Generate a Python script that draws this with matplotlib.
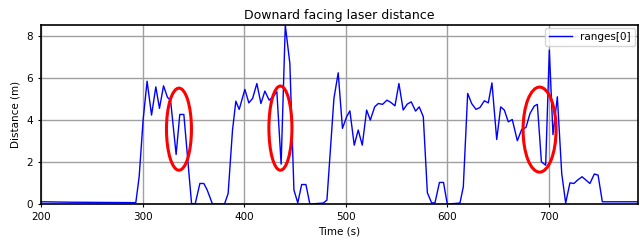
import numpy as np
import matplotlib
matplotlib.use("Agg")
import matplotlib.pyplot as plt
from matplotlib.patches import Ellipse

# laser range readings
time_s = [200, 230, 260, 293.4, 296.7, 300.6, 304.5, 308.9, 313.1, 316.7, 320.7, 324.6,
          327.6, 333.1, 336.7, 340.7, 348.3, 351.8, 356.5, 360.4, 363.7, 368.9, 380.7,
          384.3, 388.6, 391.9, 395.2, 400.8, 404.7, 408.4, 412.6, 416.6, 420.5, 424.7,
          428.4, 432.3, 436.5, 440.6, 445.1, 449.1, 452.9, 456.7, 460.9, 464.8, 478.0,
          481.6, 488.5, 492.7, 496.9, 501.0, 504.2, 508.5, 512.4, 516.4, 520.7, 524.3,
          528.6, 532.2, 536.4, 540.7, 544.6, 548.6, 552.5, 556.7, 560.7, 564.6, 568.9,
          572.5, 576.5, 580.5, 584.7, 588.0, 592.4, 596.4, 600.1, 612.6, 615.9, 620.2,
          624.1, 628.4, 632.3, 636.6, 640.5, 644.1, 648.8, 652.7, 656.3, 660.2, 664.1,
          669.1, 673.4, 677.6, 681.6, 685.8, 688.8, 692.8, 697.0, 700.6, 704.2, 708.5,
          712.8, 716.7, 720.9, 724.8, 728.4, 732.8, 736.7, 740.6, 744.9, 748.6, 752.8,
          788]
ranges0 = [0.11, 0.09, 0.08, 0.07, 1.3, 4.0, 5.84, 4.23, 5.57, 4.55, 5.62, 5.07,
           4.94, 2.36, 4.26, 4.26, 0.03, 0.0, 0.98, 0.98, 0.67, 0.0, 0.0,
           0.5, 3.5, 4.89, 4.5, 5.45, 4.81, 5.02, 5.73, 4.78, 5.37, 4.94,
           5.1, 5.34, 1.9, 8.5, 6.68, 0.67, 0.06, 0.93, 0.93, 0.0, 0.05,
           0.19, 5.02, 6.24, 3.6, 4.15, 4.43, 2.8, 3.52, 2.8, 4.47, 3.99,
           4.62, 4.78, 4.74, 4.94, 4.83, 4.67, 5.73, 4.47, 4.75, 4.86, 4.42,
           4.62, 4.15, 0.54, 0.06, 0.06, 1.03, 1.03, 0.0, 0.05, 0.82, 5.26,
           4.78, 4.5, 4.59, 4.91, 4.81, 5.76, 3.07, 4.62, 4.47, 3.91, 4.02,
           3.01, 3.55, 3.64, 4.31, 4.66, 4.74, 2.01, 1.85, 7.32, 3.3, 5.1,
           1.46, 0.05, 1.01, 0.98, 1.14, 1.3, 1.14, 0.98, 1.43, 1.38, 0.11,
           0.11]

# red circles drawn around the dropouts: (centre t, centre d, width, height)
highlights = [(335.9, 3.56, 24.6, 3.9), (435.8, 3.61, 22.7, 4.0), (691.0, 3.54, 32.5, 4.04)]

fig = plt.figure(figsize=(6.4, 2.48), dpi=100)
ax = fig.add_axes([0.064, 0.177, 0.933, 0.723])
ax.plot(time_s, ranges0, color="blue", lw=1.0, label="ranges[0]")
for cx, cy, w, h in highlights:
    ax.add_patch(Ellipse((cx, cy), w, h, fill=False, edgecolor="red", lw=2.2, zorder=5))

ax.set_xlim(200, 788)
ax.set_ylim(0, 8.52)
ax.set_xticks([200, 300, 400, 500, 600, 700])
ax.set_yticks([0, 2, 4, 6, 8])
ax.grid(True, color="#a0a0a0", lw=1.0)
ax.tick_params(labelsize=7.5, length=2.5, width=0.8)
for s in ax.spines.values():
    s.set_linewidth(1.2)
ax.set_title("Downard facing laser distance", fontsize=9, pad=4)
ax.set_xlabel("Time (s)", fontsize=7.5, labelpad=3)
ax.set_ylabel("Distance (m)", fontsize=7.5, labelpad=4)
ax.legend(loc="upper right", fontsize=7.5, handlelength=2.2, borderaxespad=0.3)

fig.savefig("out.png", dpi=100)
